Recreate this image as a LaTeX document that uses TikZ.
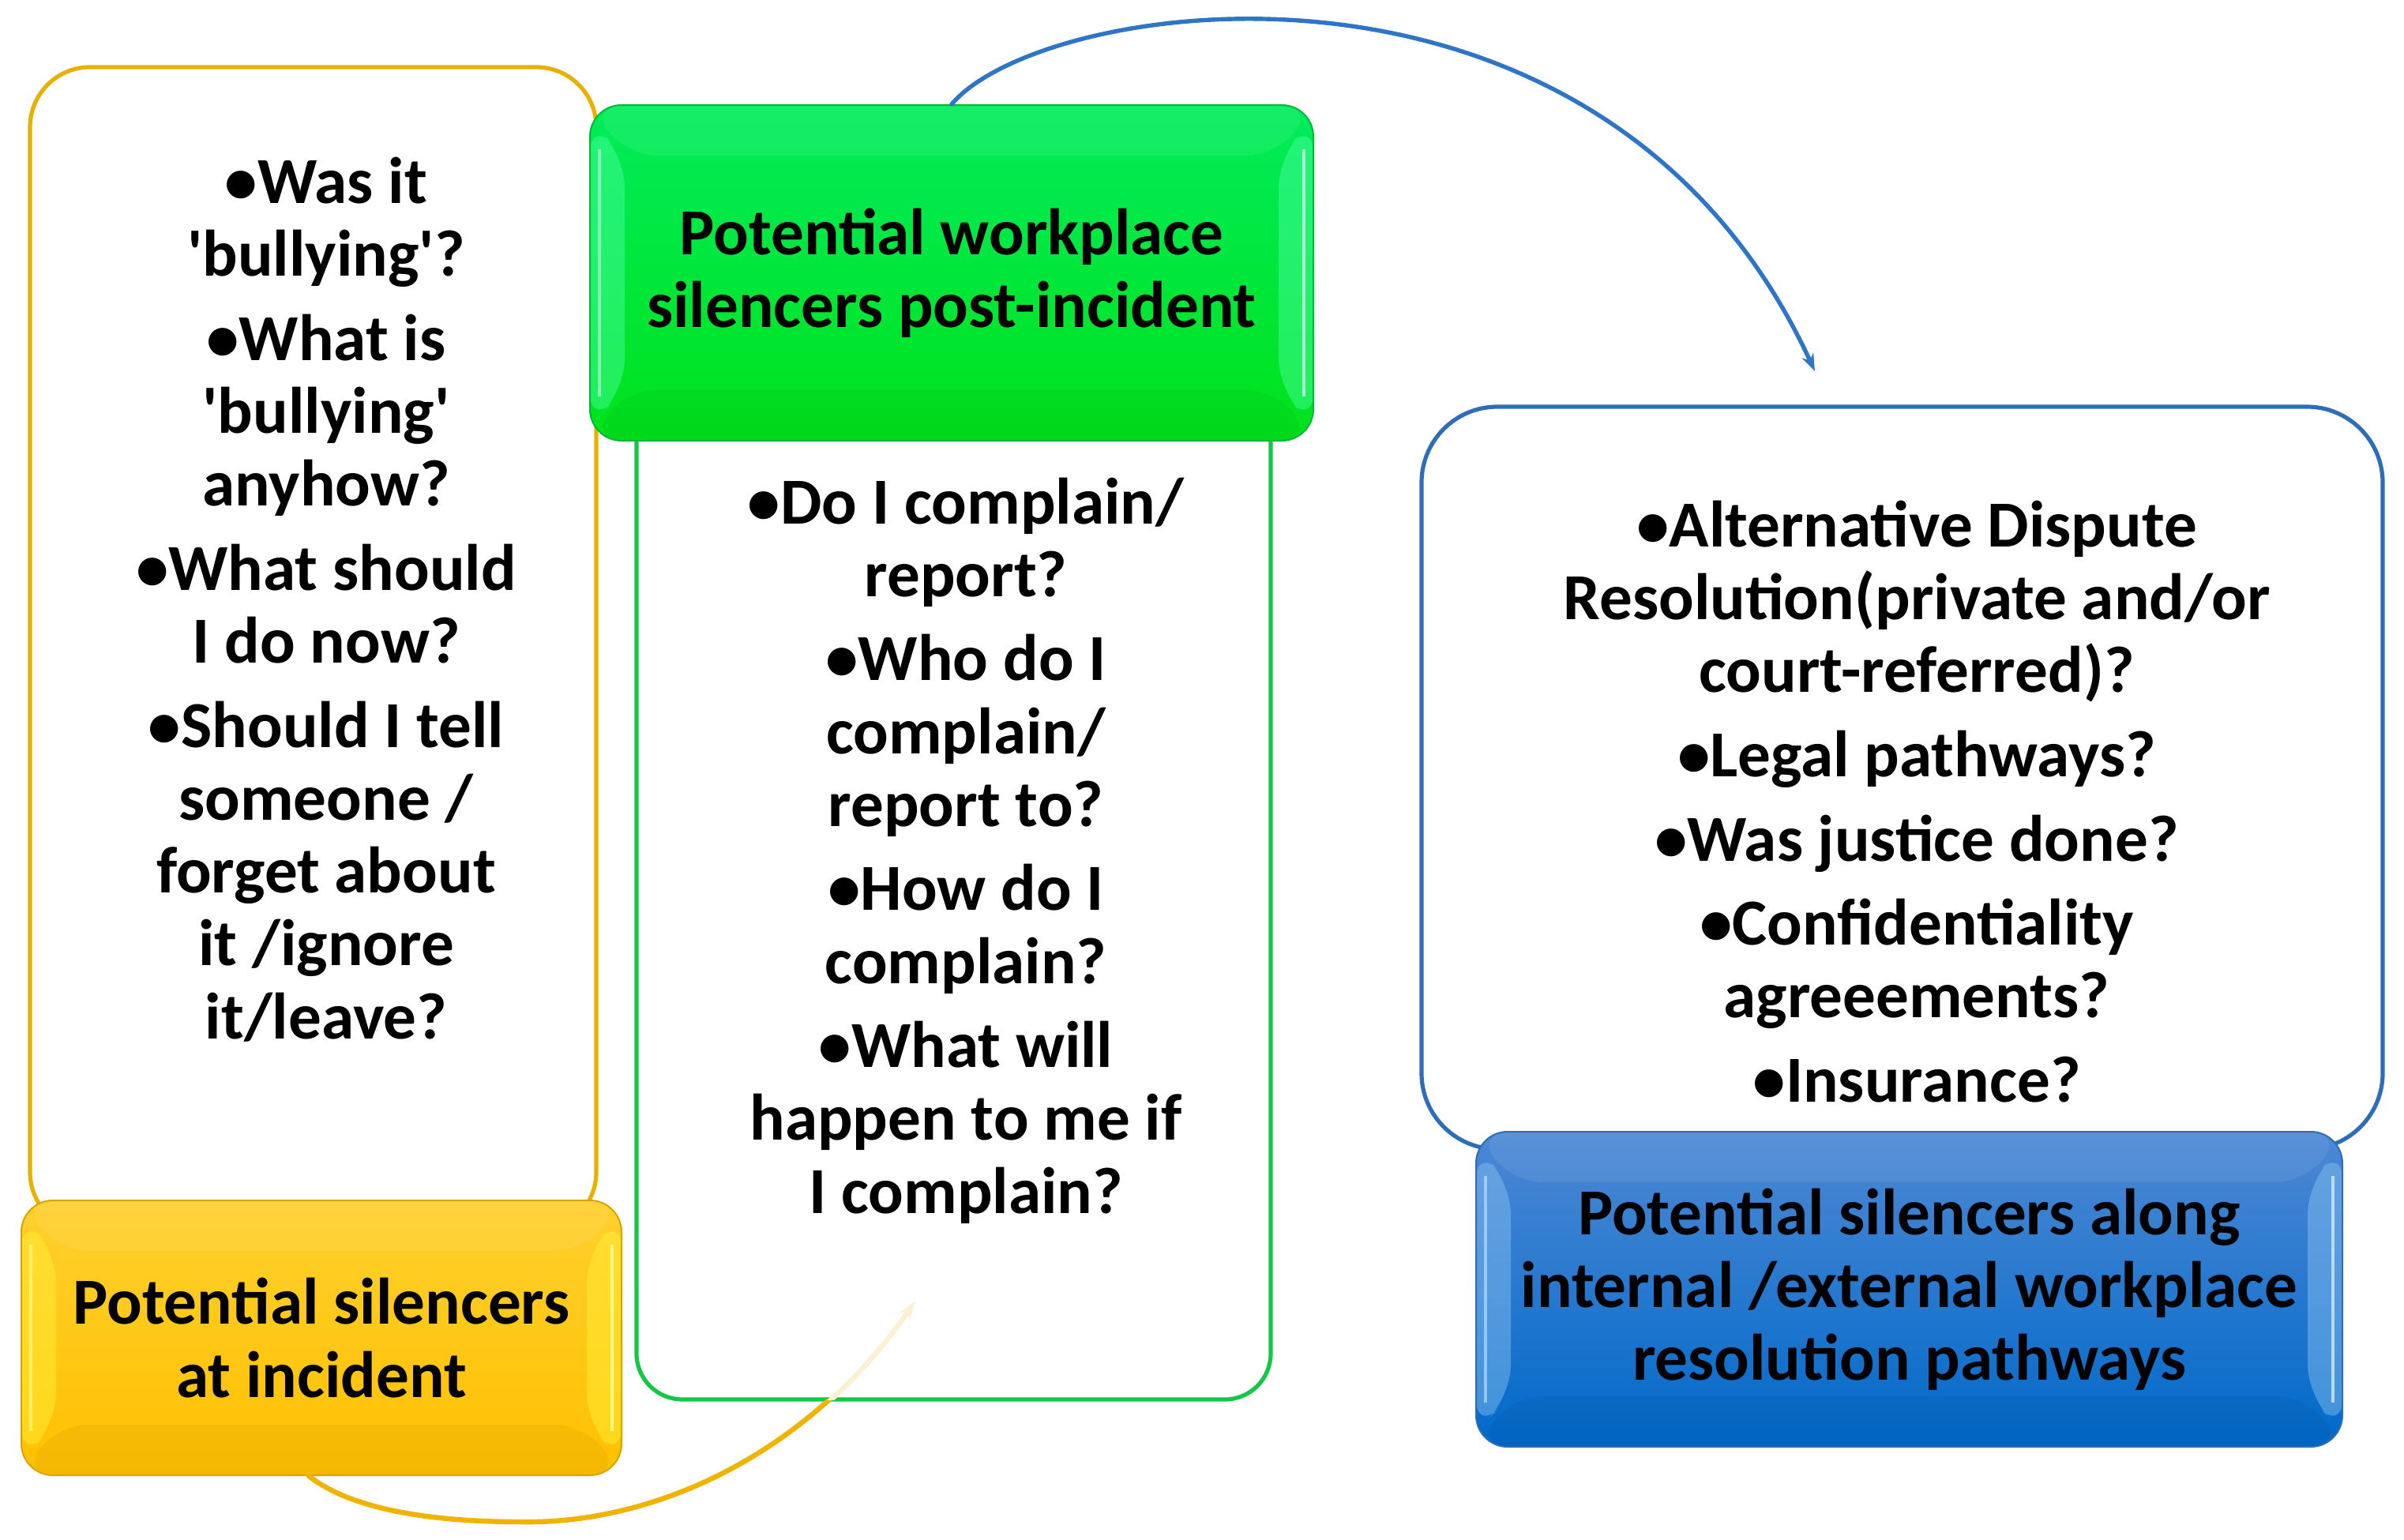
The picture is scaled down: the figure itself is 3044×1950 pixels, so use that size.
\documentclass[tikz,border=0pt]{standalone}
\usepackage{fontspec}
\setmainfont{Carlito}[Ligatures=TeXOff]
\usetikzlibrary{arrows.meta}
\definecolor{yOut}{HTML}{E8B000}
\definecolor{gOut}{HTML}{14C846}
\definecolor{bOut}{HTML}{2E6EB8}
\definecolor{yTop}{HTML}{FFD02E}
\definecolor{yBot}{HTML}{FFC000}
\definecolor{yLight}{HTML}{FFF23A}
\definecolor{yHi}{HTML}{FFFF99}
\definecolor{yBorder}{HTML}{D9A400}
\definecolor{gTop}{HTML}{00EC5C}
\definecolor{gBot}{HTML}{00E21A}
\definecolor{gLight}{HTML}{4DFFA6}
\definecolor{gHi}{HTML}{CFFFEA}
\definecolor{gBorder}{HTML}{00B838}
\definecolor{bTop}{HTML}{4D88D4}
\definecolor{bBot}{HTML}{0069C9}
\definecolor{bLight}{HTML}{8CC4F2}
\definecolor{bHi}{HTML}{CBE6FF}
\definecolor{bBorder}{HTML}{2F6DB5}
\definecolor{arcBlue}{HTML}{2E75C6}
\definecolor{arcGold}{HTML}{F0B400}
\definecolor{arcFaint}{HTML}{FBF0D4}
\begin{document}
\begin{tikzpicture}[x=0.25pt,y=-0.25pt,
  txt/.style={font=\fontsize{20.8}{23.05}\selectfont\bfseries, align=center, inner sep=0pt, text=black},
  wbox/.style 2 args={draw=#1, line width=1.3pt, fill=white, rounded corners=#2, inner sep=0pt},
  hdr/.style n args={5}{draw=#5, line width=0.5pt, rounded corners=10pt, top color=#1, bottom color=#2, inner sep=0pt,
    path picture={
      \fill[#3, opacity=0.45] ([yshift=-5pt]path picture bounding box.north west) -- ([xshift=11pt,yshift=-16pt]path picture bounding box.north west) -- ([xshift=11pt,yshift=16pt]path picture bounding box.south west) -- ([yshift=5pt]path picture bounding box.south west) -- cycle;
      \fill[#3, opacity=0.45] ([yshift=-5pt]path picture bounding box.north east) -- ([xshift=-11pt,yshift=-16pt]path picture bounding box.north east) -- ([xshift=-11pt,yshift=16pt]path picture bounding box.south east) -- ([yshift=5pt]path picture bounding box.south east) -- cycle;
      \fill[white, opacity=0.08] (path picture bounding box.north west) -- (path picture bounding box.north east) -- ([xshift=-11pt,yshift=-16pt]path picture bounding box.north east) -- ([xshift=11pt,yshift=-16pt]path picture bounding box.north west) -- cycle;
      \fill[black, opacity=0.04] (path picture bounding box.south west) -- (path picture bounding box.south east) -- ([xshift=-11pt,yshift=16pt]path picture bounding box.south east) -- ([xshift=11pt,yshift=16pt]path picture bounding box.south west) -- cycle;
      \draw[#4, line width=1.2pt, opacity=0.85] ([xshift=-3pt,yshift=-14pt]path picture bounding box.north east) -- ([xshift=-3pt,yshift=14pt]path picture bounding box.south east);
      \draw[#4, line width=0.8pt, opacity=0.6] ([xshift=3pt,yshift=-14pt]path picture bounding box.north west) -- ([xshift=3pt,yshift=14pt]path picture bounding box.south west);
    }},
  arcline/.style={line width=#1, line cap=round}
]
\useasboundingbox (0,0) rectangle (3044,1950);

% white content boxes
\node[wbox={yOut}{19pt}, minimum width=179.25pt, minimum height=368.75pt] (ybox) at (396.5,822.5) {};
\node[wbox={gOut}{14.5pt}, minimum width=200.75pt, minimum height=318pt] (gbox) at (1207.5,1136) {};
\node[wbox={bOut}{24pt}, minimum width=304.25pt, minimum height=235pt] (bbox) at (2408.5,985) {};

% header boxes
\node[hdr={yTop}{yBot}{yLight}{yHi}{yBorder}, txt, minimum width=190pt, minimum height=87pt] (yhdr) at (407,1694) {Potential silencers\\at incident};
\node[hdr={gTop}{gBot}{gLight}{gHi}{gBorder}, txt, minimum width=229pt, minimum height=106.25pt] (ghdr) at (1205,345.5) {Potential workplace\\silencers post-incident};
\node[hdr={bTop}{bBot}{bLight}{bHi}{bBorder}, txt, minimum width=274.25pt, minimum height=99.75pt] (bhdr) at (2417.5,1632.5) {Potential silencers along\\internal /external workplace\\resolution pathways};

% texts
\node[txt] (ytext) at (413,759) {•Was it\\'bullying'?\\[3.6pt]•What is\\'bullying'\\anyhow?\\[3.6pt]•What should\\I do now?\\[3.6pt]•Should I tell\\someone /\\forget about\\it /ignore\\it/leave?};
\node[txt] (gtext) at (1223,1077) {•Do I complain/\\report?\\[3.6pt]•Who do I\\complain/\\report to?\\[3.6pt]•How do I\\complain?\\[3.6pt]•What will\\happen to me if\\I complain?};
\node[txt] (btext) at (2427,1015) {•Alternative Dispute\\Resolution(private and/or\\court-referred)?\\[3.6pt]•Legal pathways?\\[3.6pt]•Was justice done?\\[3.6pt]•Confidentiality\\agreeements?\\[3.6pt]•Insurance?};

% connectors
\coordinate (bEnd) at (2298,470);
\coordinate (yEnd) at (1159,1647);
\draw[arcline=1.35pt, arcBlue, -{Stealth[length=5.5pt,width=4pt]}] (ghdr.north) .. controls (1320,-5) and (2030,-110) .. (bEnd);

\begin{scope}
  \clip (0,1772) rectangle (3044,1950);
  \draw[arcline=1.6pt, arcGold] ([xshift=-4pt]yhdr.south) .. controls (450,1915) and (560,1927) .. (660,1927) .. controls (820,1930) and (1020,1850) .. (yEnd);
\end{scope}
\begin{scope}
  \clip (0,0) rectangle (3044,1772);
  \draw[arcline=1.6pt, arcFaint, -{Stealth[length=6pt,width=4pt]}] ([xshift=-4pt]yhdr.south) .. controls (450,1915) and (560,1927) .. (660,1927) .. controls (820,1930) and (1020,1850) .. (yEnd);
\end{scope}
\end{tikzpicture}
\end{document}
